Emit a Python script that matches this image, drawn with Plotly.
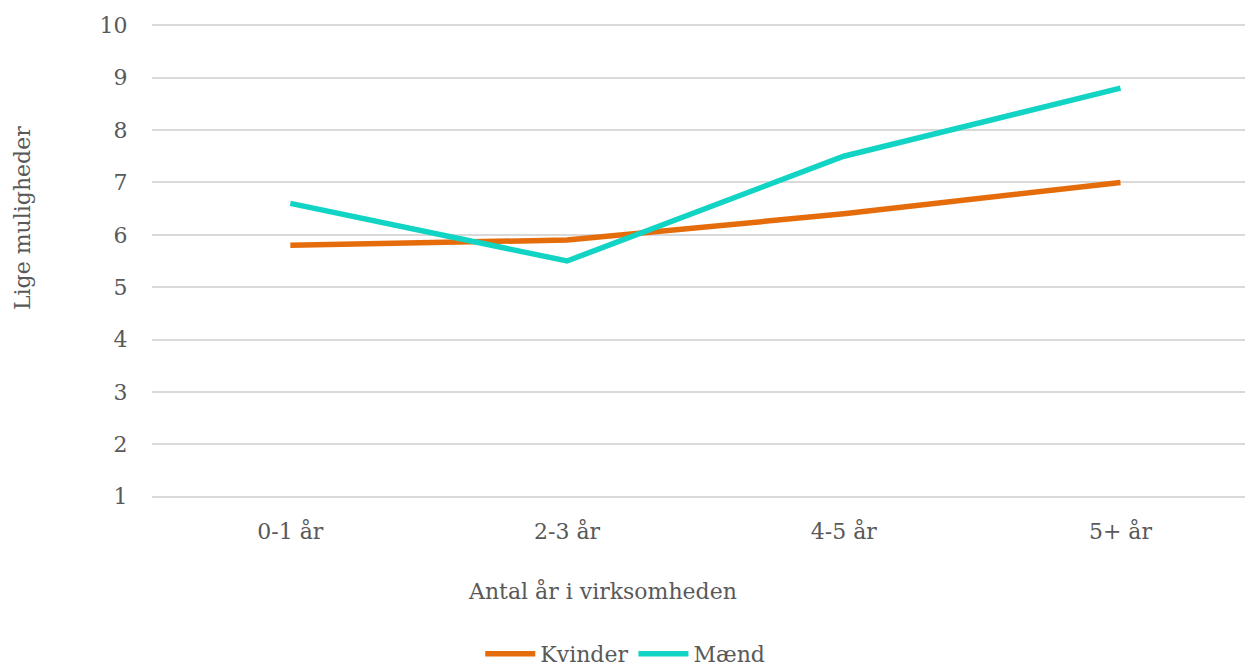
import plotly.graph_objects as go

# Survey: perceived equal opportunities by years of employment
categories = ["0-1 år", "2-3 år", "4-5 år", "5+ år"]
kvinder = [5.8, 5.9, 6.4, 7.0]
maend = [6.6, 5.5, 7.5, 8.8]
y_ticks = [1, 2, 3, 4, 5, 6, 7, 8, 9, 10]

FONT = "DejaVu Serif"
TEXT = "#595959"
SIZE = 22

fig = go.Figure()
fig.add_trace(go.Scatter(
    x=categories, y=kvinder, name="Kvinder", mode="lines",
    line=dict(color="#E46C0A", width=5.5),
))
fig.add_trace(go.Scatter(
    x=categories, y=maend, name="Mænd", mode="lines",
    line=dict(color="#12D4C4", width=5.5),
))

fig.update_layout(
    width=1245, height=670,
    margin=dict(l=152, r=0, t=20, b=168, autoexpand=False),
    paper_bgcolor="white", plot_bgcolor="white",
    font=dict(family=FONT, size=SIZE, color=TEXT),
    showlegend=True,
    legend=dict(
        orientation="h", x=0.433, xanchor="center", y=-0.315, yanchor="middle",
        font=dict(family=FONT, size=SIZE, color=TEXT),
        itemwidth=50, tracegroupgap=0,
    ),
    annotations=[
        dict(text="Antal år i virksomheden", xref="paper", yref="paper",
             x=0.4126, y=-0.184, xanchor="center", yanchor="middle",
             showarrow=False, font=dict(family=FONT, size=SIZE, color=TEXT)),
        dict(text="Lige muligheder", xref="paper", yref="paper",
             x=-0.119, y=0.589, xanchor="center", yanchor="middle",
             textangle=-90, showarrow=False,
             font=dict(family=FONT, size=SIZE, color=TEXT)),
    ],
)
fig.update_xaxes(
    type="category", range=[-0.5, 3.45], automargin=False,
    showgrid=False, zeroline=False, showline=False,
    ticks="outside", ticklen=10, tickcolor="rgba(0,0,0,0)",
    tickfont=dict(family=FONT, size=SIZE, color=TEXT),
)
fig.update_yaxes(
    range=[0.9, 10.1], tickvals=y_ticks, automargin=False,
    showgrid=True, gridcolor="#D9D9D9", gridwidth=1.5,
    zeroline=False, showline=False,
    ticks="outside", ticklen=19, tickcolor="rgba(0,0,0,0)",
    tickfont=dict(family=FONT, size=SIZE, color=TEXT),
)

fig.write_html("out.html")
